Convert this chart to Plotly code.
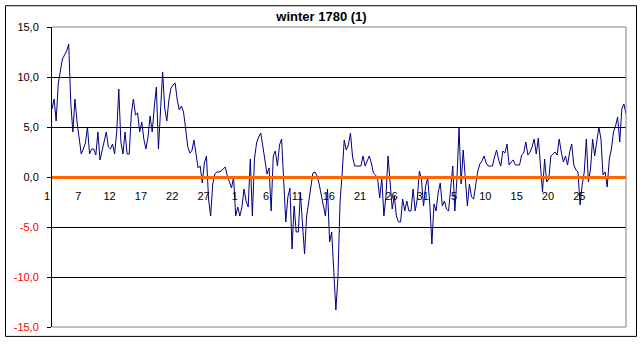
import plotly.graph_objects as go

# readings (3 per day), winter 1780
temperature = [
    6.8, 7.8, 5.6, 9.3, 10.6, 11.8, 12.2, 12.6, 13.3, 7.4,
    4.5, 7.8, 5.5, 3.6, 2.3, 2.8, 3.4, 5.0, 2.3, 2.8,
    2.8, 2.2, 4.5, 1.7, 2.6, 3.5, 4.5, 3.0, 2.8, 3.3,
    2.3, 4.5, 8.8, 3.5, 2.3, 4.5, 2.3, 2.3, 6.3, 7.8,
    6.2, 6.4, 4.5, 5.5, 3.8, 2.8, 4.0, 6.1, 4.5, 7.0,
    9.0, 2.8, 7.1, 10.5, 6.9, 5.6, 7.7, 8.9, 9.2, 9.4,
    7.7, 6.7, 7.1, 6.5, 4.9, 3.1, 2.4, 2.6, 3.7, 2.1,
    0.9, 1.1, -0.6, 1.4, 2.1, -2.2, -3.9, -0.7, 0.3, 0.5,
    0.5, 0.6, 0.8, 1.0, 0.1, -0.6, -1.1, 0.0, -3.9, -3.0,
    -3.9, -3.0, -1.2, -2.4, -3.0, 1.8, -3.9, 1.8, 3.4, 4.0,
    4.4, 3.1, 1.7, 0.3, 0.9, -3.4, 2.1, 2.6, 1.1, 3.2,
    3.8, -0.7, -4.5, -2.0, -1.1, -7.2, -2.9, -5.5, -5.5, -1.6,
    -5.0, -7.7, -3.9, -2.4, -0.9, 0.4, 0.5, 0.1, -0.7, -1.9,
    -2.9, -3.9, -1.2, -6.5, -5.5, -9.5, -13.3, -10.0, -2.5, 0.3,
    3.7, 2.7, 3.2, 4.4, 2.0, 1.1, 1.1, 1.1, 1.1, 2.1,
    1.1, 1.6, 2.1, 1.4, 0.4, 0.2, -0.2, -2.1, -0.1, -3.9,
    -1.9, 2.1, -0.2, -3.2, -1.9, -3.9, -4.5, -4.5, -2.2, -3.4,
    -2.4, -3.4, -3.4, -1.2, -3.4, -2.2, 0.6, -0.2, -2.9, -0.9,
    -0.1, -2.7, -6.7, -2.7, -3.4, -1.6, -0.6, -2.9, -2.4, -3.2,
    -3.4, -1.2, 1.1, -3.4, -0.2, 4.9, -0.7, 2.7, -0.6, -2.9,
    -0.7, -2.0, -2.2, -0.7, 0.6, 1.3, 1.6, 2.1, 1.4, 1.1,
    1.1, 1.1, 2.0, 2.7, 1.7, 1.1, 2.6, 2.4, 3.3, 1.2,
    1.5, 1.7, 1.2, 1.2, 1.2, 2.2, 2.4, 3.5, 2.2, 2.5,
    3.0, 3.8, 2.3, 3.9, 1.2, -1.5, 1.8, -0.5, -0.2, 2.1,
    2.3, 2.5, 2.2, 3.8, 2.5, 1.5, 2.1, 1.2, 2.5, 3.3,
    1.2, 0.7, 0.5, -2.8, -0.8, 0.5, 3.8, -0.5, 0.8, 3.8,
    2.1, 3.8, 5.0, 3.8, 0.2, 0.5, -1.0, 1.8, 2.8, 4.5,
    5.1, 6.0, 3.5, 6.8, 7.3, 6.3,
]
point_index = list(range(len(temperature)))

day_labels = ["1", "7", "12", "17", "22", "27", "1", "6", "11", "16", "21",
              "26", "31", "5", "10", "15", "20", "25"]
day_label_index = [15 * k for k in range(len(day_labels))]

y_ticks = [15, 10, 5, 0, -5, -10, -15]
y_labels = ["15,0", "10,0", "5,0", "0,0",
            '<span style="color:#ff0000">-5,0</span>',
            '<span style="color:#ff0000">-10,0</span>',
            '<span style="color:#ff0000">-15,0</span>']

title_text = "winter 1780 (1)"

FONT = "Liberation Sans, Arial, sans-serif"

fig = go.Figure()
fig.add_trace(go.Scatter(
    x=point_index, y=temperature, mode="lines",
    line=dict(color="#000080", width=1),
    showlegend=False, hoverinfo="skip",
))

L, R, T, B = 52, 17, 27, 15
W, H = 643, 345
pw, ph = W - L - R, H - T - B

def px_x(p):
    return (p - L) / pw

def px_y(p):
    return (H - B - p) / ph

fig.update_layout(
    width=W, height=H,
    margin=dict(l=L, r=R, t=T, b=B, pad=0),
    paper_bgcolor="white", plot_bgcolor="white",
    font=dict(family=FONT, size=11, color="black"),
    title=dict(text="<b>" + title_text + "</b>", x=0.5, xref="container",
               xanchor="center", y=1 - 16 / H, yref="container", yanchor="middle",
               font=dict(family=FONT, size=13, color="black")),
    xaxis=dict(
        range=[0, len(temperature) - 1],
        anchor="free", position=0.5,
        showline=True, linecolor="#ff6600", linewidth=3,
        showgrid=False, zeroline=False,
        tickmode="array", tickvals=day_label_index, ticktext=day_labels,
        ticks="", ticklabelshift=-5, ticklabelstandoff=8,
        tickfont=dict(family=FONT, size=11, color="black"),
    ),
    yaxis=dict(
        range=[-15, 15], domain=[0, 1],
        showline=True, linecolor="black", linewidth=1,
        showgrid=True, gridcolor="black", gridwidth=1,
        zeroline=False,
        tickmode="array", tickvals=y_ticks, ticktext=y_labels,
        ticks="outside", ticklen=4, tickcolor="black",
        ticklabelstandoff=6,
        tickfont=dict(family=FONT, size=11, color="black"),
    ),
    shapes=[
        dict(type="line", xref="paper", yref="paper", x0=0, x1=1, y0=1, y1=1,
             line=dict(color="#808080", width=1), layer="above"),
        dict(type="line", xref="paper", yref="paper", x0=1, x1=1, y0=0, y1=1,
             line=dict(color="#808080", width=1), layer="above"),
        dict(type="line", xref="paper", yref="paper", x0=0, x1=1, y0=0, y1=0,
             line=dict(color="#808080", width=1), layer="above"),
        dict(type="rect", xref="paper", yref="paper",
             x0=px_x(5.5), x1=px_x(636.5), y0=px_y(339.5), y1=px_y(5.5),
             line=dict(color="black", width=1), fillcolor="rgba(0,0,0,0)",
             layer="above"),
    ],
)

fig.write_html("out.html", config={"displayModeBar": False},
               post_script="document.body.style.margin='0';document.body.style.overflow='hidden';")
